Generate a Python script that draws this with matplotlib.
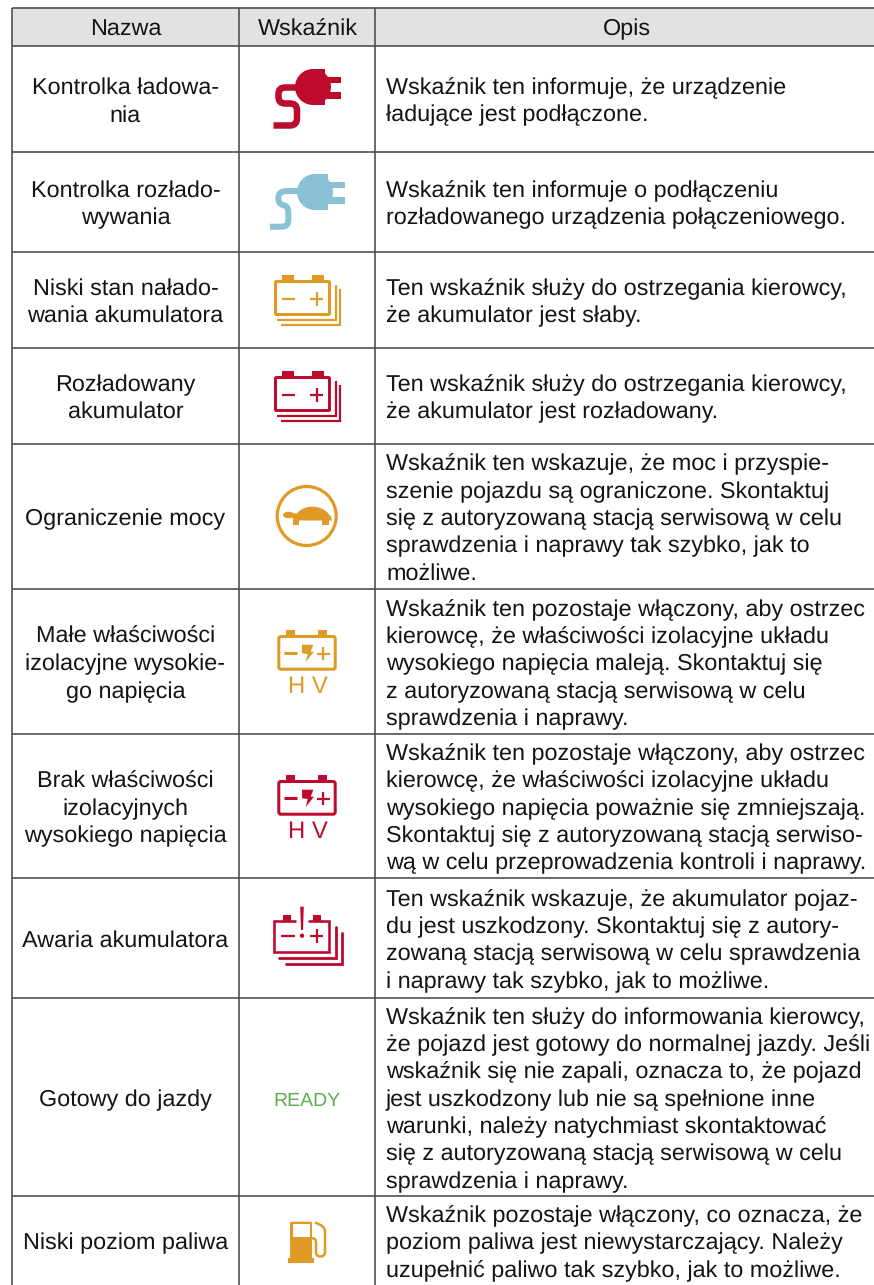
import matplotlib as mpl
mpl.use('Agg')
import matplotlib.pyplot as plt
from matplotlib.patches import Rectangle, FancyBboxPatch, PathPatch, Circle, Ellipse, Polygon
from matplotlib.path import Path

plt.rcParams['font.family'] = ['Liberation Sans', 'DejaVu Sans']
plt.rcParams['text.hinting'] = 'no_hinting'

naglowki = ["Nazwa", "Wskaźnik", "Opis"]

nazwy = [
    ["Kontrolka ładowa-", "nia"],
    ["Kontrolka rozłado-", "wywania"],
    ["Niski stan nałado-", "wania akumulatora"],
    ["Rozładowany", "akumulator"],
    ["Ograniczenie mocy"],
    ["Małe właściwości", "izolacyjne wysokie-", "go napięcia"],
    ["Brak właściwości", "izolacyjnych", "wysokiego napięcia"],
    ["Awaria akumulatora"],
    ["Gotowy do jazdy"],
    ["Niski poziom paliwa"],
]

opisy = [
    ["Wskaźnik ten informuje, że urządzenie", "ładujące jest podłączone."],
    ["Wskaźnik ten informuje o podłączeniu", "rozładowanego urządzenia połączeniowego."],
    ["Ten wskaźnik służy do ostrzegania kierowcy,", "że akumulator jest słaby."],
    ["Ten wskaźnik służy do ostrzegania kierowcy,", "że akumulator jest rozładowany."],
    ["Wskaźnik ten wskazuje, że moc i przyspie-", "szenie pojazdu są ograniczone. Skontaktuj",
     "się z autoryzowaną stacją serwisową w celu", "sprawdzenia i naprawy tak szybko, jak to", "możliwe."],
    ["Wskaźnik ten pozostaje włączony, aby ostrzec", "kierowcę, że właściwości izolacyjne układu",
     "wysokiego napięcia maleją. Skontaktuj się", "z autoryzowaną stacją serwisową w celu", "sprawdzenia i naprawy."],
    ["Wskaźnik ten pozostaje włączony, aby ostrzec", "kierowcę, że właściwości izolacyjne układu",
     "wysokiego napięcia poważnie się zmniejszają.", "Skontaktuj się z autoryzowaną stacją serwiso-",
     "wą w celu przeprowadzenia kontroli i naprawy."],
    ["Ten wskaźnik wskazuje, że akumulator pojaz-", "du jest uszkodzony. Skontaktuj się z autory-",
     "zowaną stacją serwisową w celu sprawdzenia", "i naprawy tak szybko, jak to możliwe."],
    ["Wskaźnik ten służy do informowania kierowcy,", "że pojazd jest gotowy do normalnej jazdy. Jeśli",
     "wskaźnik się nie zapali, oznacza to, że pojazd", "jest uszkodzony lub nie są spełnione inne",
     "warunki, należy natychmiast skontaktować", "się z autoryzowaną stacją serwisową w celu",
     "sprawdzenia i naprawy."],
    ["Wskaźnik pozostaje włączony, co oznacza, że", "poziom paliwa jest niewystarczający. Należy",
     "uzupełnić paliwo tak szybko, jak to możliwe."],
]

linie_y = [46, 151.5, 251.5, 347.7, 443.5, 589, 734, 878, 998, 1196, 1285]

CZERWONY = '#BE0A2D'
NIEBIESKI = '#8AC1D5'
POMARANCZ = '#DF9B25'
ZIELONY = '#5CB04F'
LINIA = '#4a4a4a'
TEKST = '#141414'
FS = 16.8
LH = 27.3

fig = plt.figure(figsize=(8.74, 12.85), dpi=100)
ax = fig.add_axes([0, 0, 1, 1])
ax.set_xlim(0, 874)
ax.set_ylim(1285, 0)
ax.axis('off')


def lw(px):
    return px * 0.72


def rect(x0, y0, x1, y1, c):
    ax.add_patch(Rectangle((x0, y0), x1 - x0, y1 - y0, fc=c, ec='none'))


def linia(xs, ys, c, w, cap='butt'):
    ax.plot(xs, ys, color=c, lw=lw(w), solid_capstyle=cap, solid_joinstyle='miter')


def wtyczka(x0, y0, x1, p1, c):
    # korpus: lewa strona zaokraglona, dwa bolce
    r = 18
    ax.add_patch(Circle((x0 + r, y0 + r), r, fc=c, ec='none'))
    rect(x0 + r, y0, x1, y0 + 2 * r, c)
    rect(x1 - 1, y0 + 8, p1, y0 + 14, c)
    rect(x1 - 1, y0 + 23, p1, y0 + 30, c)


M, L, C = Path.MOVETO, Path.LINETO, Path.CURVE3


def kabel(v, cd, c, w):
    ax.add_patch(PathPatch(Path(v, cd), fc='none', ec=c, lw=lw(w), capstyle='butt'))


def akumulator_stos(dy, c):
    ax.add_patch(FancyBboxPatch((275.5, 281.5 + dy), 54, 33, boxstyle='round,pad=0,rounding_size=1', fc='none', ec=c, lw=lw(3)))
    rect(282, 275 + dy, 294, 281 + dy, c)
    rect(312, 275 + dy, 324, 281 + dy, c)
    linia([282, 295], [298.7 + dy] * 2, c, 2.2)
    linia([310, 323], [298.7 + dy] * 2, c, 2.2)
    linia([316.5, 316.5], [292 + dy, 305.5 + dy], c, 2.2)
    linia([277.3, 336, 336], [319.5 + dy, 319.5 + dy, 285 + dy], c, 2.2)
    linia([280.5, 340, 340], [324.5 + dy, 324.5 + dy, 289 + dy], c, 2.2)


def akumulator_hv(dy, c):
    ax.add_patch(FancyBboxPatch((278.8, 636.5 + dy), 56.4, 32.7, boxstyle='round,pad=0,rounding_size=2', fc='none', ec=c, lw=lw(3)))
    rect(286, 630 + dy, 295, 636 + dy, c)
    rect(318, 630 + dy, 327, 636 + dy, c)
    linia([284, 297.3], [653 + dy] * 2, c, 3)
    linia([316.5, 330], [653.5 + dy] * 2, c, 2.2)
    linia([323.3, 323.3], [646.5 + dy, 660 + dy], c, 2.2)
    bolt = [(302, 644.7), (313.3, 644.7), (310.7, 651.7), (314, 651.7), (305.7, 662), (307.7, 654), (302, 653.3)]
    ax.add_patch(Polygon([(x, y + dy) for x, y in bolt], fc=c, ec='none'))
    ax.text(307.5, 692.7 + dy, "H V", color=c, fontsize=17.2, ha='center', va='baseline')


def akumulator_awaria(c):
    linia([296, 273.8, 273.8, 329.2, 329.2, 308], [921.3, 921.3, 952, 952, 921.3, 921.3], c, 2.6)
    rect(283, 915, 291, 921, c)
    rect(312.7, 915, 320.7, 921, c)
    linia([280.7, 295], [935.7, 935.7], c, 2.2)
    linia([310, 323], [935.7, 935.7], c, 2.2)
    linia([316.5, 316.5], [929, 942.5], c, 2.2)
    ax.add_patch(Polygon([(300.2, 906.7), (303.8, 906.7), (303, 930), (301, 930)], fc=c, ec='none'))
    ax.add_patch(Circle((302, 935.7), 2.2, fc=c, ec='none'))
    linia([279.3, 336, 336], [958, 958, 926.7], c, 2.8, 'round')
    linia([286, 342, 342], [964.3, 964.3, 933.3], c, 2.8, 'round')


def zolw(c):
    ax.add_patch(Circle((306.7, 516), 29.5, fc='none', ec=c, lw=lw(3.2)))
    cd = [M, Path.CURVE4, Path.CURVE4, Path.CURVE4, L, Path.CLOSEPOLY]
    v = [(293, 520.5), (298, 502), (327, 502), (332, 520.5), (293, 520.5), (293, 520.5)]
    ax.add_patch(PathPatch(Path(v, cd), fc=c, ec='none'))
    ax.add_patch(Ellipse((288.5, 515), 11, 6.5, fc=c, ec='none'))
    ax.add_patch(Polygon([(290, 512.5), (298, 514), (296, 520.5), (292, 518)], fc=c, ec='none'))
    ax.add_patch(Polygon([(325, 516), (332, 516.5), (328, 520.5)], fc=c, ec='none'))
    rect(292.5, 520, 299, 524.5, c)
    rect(322, 520, 328.5, 524.5, c)


def dystrybutor(c):
    rect(288, 1258.3, 314, 1262.7, c)
    ax.add_patch(FancyBboxPatch((290, 1221.7), 22, 37, boxstyle='round,pad=0,rounding_size=1.5', fc=c, ec='none'))
    rect(293, 1224.3, 309.7, 1236.7, 'white')
    v = [(312, 1238.5), (316, 1237.5), (316, 1243), (316, 1252), (316, 1256.5), (320.5, 1256.5), (325, 1256.5), (325, 1252), (325, 1231), (325, 1226), (315, 1222.5)]
    cd = [M, C, C, L, C, C, C, C, L, C, C]
    ax.add_patch(PathPatch(Path(v, cd), fc='none', ec=c, lw=lw(2.5)))


# naglowek i siatka
rect(12, 8, 874, 46, '#E2E2E2')
linia([12, 874], [8, 8], LINIA, 1.6)
for y in linie_y[:-1]:
    linia([12, 874], [y, y], LINIA, 1.6)
for x in [12, 239, 375]:
    linia([x, x], [8, 1285], LINIA, 1.6)

ax.text(125.5, 35.5, naglowki[0], fontsize=FS, color=TEKST, ha='center', va='baseline')
ax.text(307.5, 35.5, naglowki[1], fontsize=FS, color=TEKST, ha='center', va='baseline')
ax.text(627, 35.5, naglowki[2], fontsize=FS, color=TEKST, ha='center', va='baseline')

# tekst w wierszach
for i in range(len(nazwy)):
    srodek = (linie_y[i] + linie_y[i + 1]) / 2 + 1
    for k, t in enumerate(nazwy[i]):
        y = srodek + (k - (len(nazwy[i]) - 1) / 2) * LH
        ax.text(125.5, y + 8, t, fontsize=FS, color=TEKST, ha='center', va='baseline')
    for k, t in enumerate(opisy[i]):
        y = srodek + (k - (len(opisy[i]) - 1) / 2) * LH
        ax.text(386, y + 8, t, fontsize=FS, color=TEKST, ha='left', va='baseline')

# ikony
wtyczka(295, 69, 325, 341, CZERWONY)
kabel([(298, 87.5), (285, 87.5), (278.5, 87.5), (278.5, 94), (278.5, 97), (278.5, 103.5), (285, 103.5), (290, 103.5), (297, 103.5), (297, 110), (297, 118), (297, 125.5), (290, 125.5), (273.5, 125.5)],
      [M, L, C, C, L, C, C, L, C, C, L, C, C, L], CZERWONY, 6.5)
wtyczka(297, 174, 328, 345, NIEBIESKI)
kabel([(298, 191), (287, 191), (278.3, 191), (278.3, 198), (278.3, 204), (283, 205), (288.3, 206), (288.3, 212), (288.3, 220), (288.3, 226.7), (282, 226.7), (270, 226.7)],
      [M, L, C, C, C, C, C, C, L, C, C, L], NIEBIESKI, 6)
akumulator_stos(0, POMARANCZ)
akumulator_stos(96, CZERWONY)
zolw(POMARANCZ)
akumulator_hv(0, POMARANCZ)
akumulator_hv(145, CZERWONY)
akumulator_awaria(CZERWONY)
ax.text(306.5, 1106, "READY", color=ZIELONY, fontsize=14.0, ha='center', va='baseline')
dystrybutor(POMARANCZ)

fig.savefig('out.png', dpi=100)
